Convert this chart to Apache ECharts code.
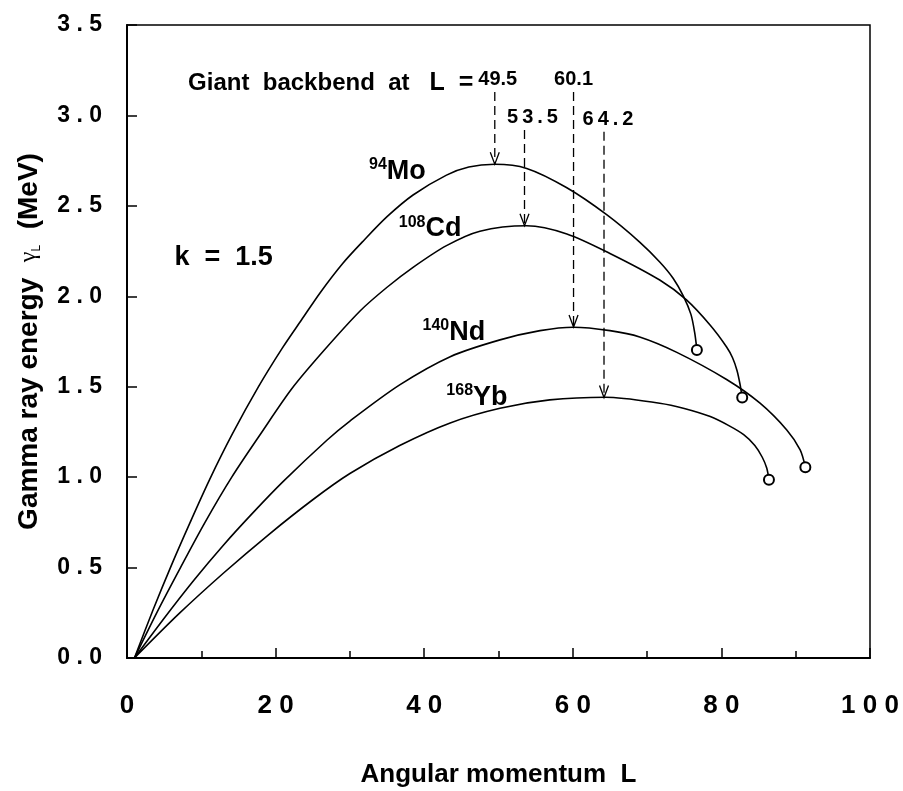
<!DOCTYPE html>
<html>
<head>
<meta charset="utf-8">
<title>Gamma ray energy vs angular momentum</title>
<script src="https://cdn.jsdelivr.net/npm/echarts@6/dist/echarts.min.js"></script>
<style>
  html, body { margin: 0; padding: 0; background: #fff; }
  #chart { width: 903px; height: 791px; }
</style>
</head>
<body>
<div id="chart"></div>
<script>
// curves: L (angular momentum) and gamma energy (MeV)
const moL = [1, 3.5, 6, 8.5, 11.1, 14.2, 17.7, 20.9, 23.5, 26, 29, 31.9, 35, 38.5, 43, 46, 49.5, 53.8, 59.2, 64.6, 69, 71.7, 73.5, 74.9, 75.9, 76.4, 76.7];
const moV = [0, 0.265, 0.515, 0.75, 0.985, 1.24, 1.5, 1.713, 1.87, 2.02, 2.18, 2.31, 2.44, 2.56, 2.67, 2.715, 2.73, 2.707, 2.6, 2.45, 2.3, 2.19, 2.1, 2.0, 1.9, 1.8, 1.703];

const cdL = [1, 4, 7.2, 10.5, 14.1, 18, 22.2, 26.5, 31.4, 35, 38.5, 43, 47.5, 53.8, 59.2, 65, 71.7, 75.3, 78.5, 80.7, 81.5, 82.1, 82.5, 82.8];
const cdV = [0, 0.25, 0.5, 0.75, 1.0, 1.24, 1.49, 1.70, 1.92, 2.05, 2.16, 2.28, 2.36, 2.39, 2.345, 2.237, 2.09, 1.98, 1.84, 1.72, 1.66, 1.59, 1.515, 1.44];

const ndL = [1, 5, 9, 13, 17, 21, 26.9, 30, 36.7, 43.5, 50.2, 55.6, 60.1, 65, 69, 74, 80.7, 85.2, 88.8, 90.6, 91.3];
const ndV = [0, 0.22, 0.43, 0.625, 0.805, 0.975, 1.204, 1.31, 1.51, 1.666, 1.759, 1.81, 1.829, 1.81, 1.775, 1.69, 1.54, 1.409, 1.261, 1.151, 1.055];

const ybL = [1, 7, 13, 19, 25, 30, 36.7, 43.5, 50.2, 56.9, 64.4, 71.7, 75, 78.5, 81, 83, 84.5, 85.5, 86.1, 86.4];
const ybV = [0, 0.245, 0.47, 0.68, 0.875, 1.02, 1.175, 1.3, 1.381, 1.427, 1.442, 1.409, 1.38, 1.335, 1.285, 1.235, 1.175, 1.11, 1.05, 0.985];

// giant backbend markers: L, top of dashed arrow, curve maximum
const backbendL = [49.5, 53.5, 60.1, 64.2];
const backbendTop = [3.13, 2.92, 3.13, 2.91];
const backbendPeak = [2.73, 2.39, 1.83, 1.44];

// text notes placed in data coordinates
const noteText = [
  "{t|Giant  backbend  at   }{b|L  =}",
  "{n|k  =  1.5}",
  "{s|94}{n|Mo}",
  "{s|108}{n|Cd}",
  "{s|140}{n|Nd}",
  "{s|168}{n|Yb}"
];
const noteL = [46.6, 13.0, 36.4, 40.8, 44.0, 47.1];
const noteV = [3.184, 2.217, 2.695, 2.375, 1.805, 1.445];

const FONT = '"Liberation Sans", Arial, sans-serif';
const spaced = s => s.split("").join(" ");

function curve(name, xs, ys) {
  const data = xs.map((x, i) => [x, ys[i]]);
  data[data.length - 1] = { value: data[data.length - 1], symbol: "emptyCircle", symbolSize: 10 };
  return {
    name: name,
    type: "line",
    data: data,
    smooth: 0.3,
    symbol: "none",
    showSymbol: true,
    lineStyle: { color: "#000", width: 1.6 },
    itemStyle: { color: "#000", borderColor: "#000", borderWidth: 1.4 },
    z: 3
  };
}

const rich = {
  t: { fontFamily: FONT, fontWeight: "bold", fontSize: 24, color: "#000", verticalAlign: "bottom", lineHeight: 26 },
  b: { fontFamily: FONT, fontWeight: "bold", fontSize: 25, color: "#000", verticalAlign: "bottom", lineHeight: 26 },
  n: { fontFamily: FONT, fontWeight: "bold", fontSize: 27, color: "#000", verticalAlign: "bottom", lineHeight: 28 },
  s: { fontFamily: FONT, fontWeight: "bold", fontSize: 16, color: "#000", verticalAlign: "top", lineHeight: 16 }
};

const chart = echarts.init(document.getElementById("chart"), null, { renderer: "canvas" });

const option = {
  animation: false,
  backgroundColor: "#fff",
  grid: {
    left: 127, right: 33, top: 25, bottom: 133,
    containLabel: false,
    outerBoundsMode: "none",
    show: true, borderColor: "#000", borderWidth: 1.5, backgroundColor: "transparent"
  },
  xAxis: {
    type: "value",
    min: 0, max: 100, interval: 20,
    name: "Angular momentum  L",
    nameLocation: "middle",
    nameGap: 104,
    nameTextStyle: { fontFamily: FONT, fontWeight: "bold", fontSize: 26, color: "#000" },
    axisLine: { show: true, lineStyle: { color: "#000", width: 2 } },
    axisTick: { show: true, inside: true, length: 10, lineStyle: { color: "#000", width: 1.5 } },
    minorTick: { show: true, splitNumber: 2, length: 7, lineStyle: { color: "#000", width: 1.5 } },
    splitLine: { show: false },
    minorSplitLine: { show: false },
    axisLabel: {
      margin: 35,
      fontFamily: FONT, fontWeight: "bold", fontSize: 26, color: "#000",
      formatter: v => spaced(String(v))
    }
  },
  yAxis: {
    type: "value",
    min: 0, max: 3.5, interval: 0.5,
    name: "Gamma ray energy  {g|γ}{sub|L}  (MeV)",
    nameLocation: "middle",
    nameGap: 84,
    nameTextStyle: {
      fontFamily: FONT, fontWeight: "bold", fontSize: 28, color: "#000",
      rich: {
        g: { fontFamily: '"Liberation Serif", serif', fontWeight: "normal", fontSize: 24, color: "#000" },
        sub: { fontFamily: FONT, fontWeight: "normal", fontSize: 12, color: "#000", verticalAlign: "bottom", padding: [8, 0, 0, 0] }
      }
    },
    axisLine: { show: true, lineStyle: { color: "#000", width: 2 } },
    axisTick: { show: true, inside: true, length: 10, lineStyle: { color: "#000", width: 1.5 } },
    splitLine: { show: false },
    axisLabel: {
      margin: 25,
      fontFamily: FONT, fontWeight: "bold", fontSize: 23, color: "#000",
      formatter: v => spaced(v.toFixed(1))
    }
  },
  series: [
    curve("94Mo", moL, moV),
    curve("108Cd", cdL, cdV),
    curve("140Nd", ndL, ndV),
    curve("168Yb", ybL, ybV),
    {
      // dashed arrows down to the maxima, with their L values
      name: "backbend",
      type: "custom",
      data: backbendL.map((L, i) => [L, backbendTop[i], backbendPeak[i], i]),
      encode: { x: 0, y: 1 },
      renderItem: function (params, api) {
        const i = api.value(3);
        const top = api.coord([api.value(0), api.value(1)]);
        const end = api.coord([api.value(0), api.value(2)]);
        const isSpaced = i === 1 || i === 3;
        const dx = [3, 8, 0, 4][i];
        const txt = isSpaced ? String(backbendL[i]).split("").join("\u2009") : String(backbendL[i]);
        return {
          type: "group",
          children: [
            {
              type: "line",
              shape: { x1: top[0], y1: top[1], x2: end[0], y2: end[1] },
              style: { stroke: "#000", lineWidth: 1.3, lineDash: [9, 5] }
            },
            {
              type: "polyline",
              shape: { points: [[end[0] - 4.5, end[1] - 12], [end[0], end[1]], [end[0] + 4.5, end[1] - 12]] },
              style: { stroke: "#000", fill: null, lineWidth: 1.3 }
            },
            {
              type: "text",
              x: top[0] + dx, y: top[1] - 2,
              style: {
                text: txt, fill: "#000",
                font: "bold 20px " + FONT,
                align: "center", verticalAlign: "bottom"
              }
            }
          ]
        };
      },
      z: 4
    },
    {
      name: "notes",
      type: "custom",
      data: noteL.map((L, i) => [L, noteV[i], i]),
      encode: { x: 0, y: 1 },
      renderItem: function (params, api) {
        const i = api.value(2);
        const p = api.coord([api.value(0), api.value(1)]);
        return {
          type: "text",
          x: p[0], y: p[1],
          style: {
            text: noteText[i],
            rich: rich,
            fill: "#000",
            align: i === 0 ? "right" : "center",
            verticalAlign: "middle"
          }
        };
      },
      z: 5
    }
  ]
};

chart.setOption(option);
</script>
</body>
</html>
